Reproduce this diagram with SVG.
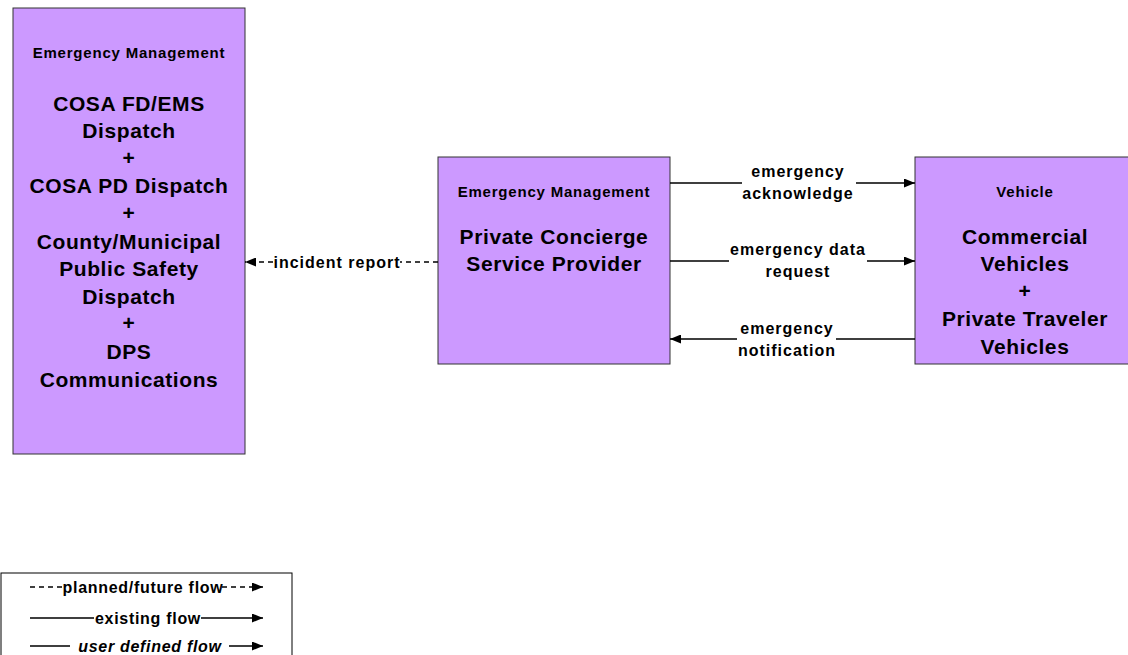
<svg xmlns="http://www.w3.org/2000/svg" width="1128" height="655" viewBox="0 0 1128 655">
<style>
.box{fill:#CC99FF;stroke:#333;stroke-width:1}
text{font-family:"Liberation Sans",Arial,sans-serif;font-weight:bold;fill:#000;text-anchor:middle}
.hd{font-size:15px;letter-spacing:0.8px}
.nm{font-size:21px;letter-spacing:0.6px}
.lb{font-size:16px;letter-spacing:1px}
.lg{font-size:16px;letter-spacing:0.7px}
.ln{stroke:#000;stroke-width:1.3;fill:none}
.dash{stroke-dasharray:5,4}
</style>
<defs>
<marker id="ah" markerWidth="11" markerHeight="9" refX="11" refY="4.5" orient="auto" markerUnits="userSpaceOnUse">
<path d="M0,0 L11,4.5 L0,9 z" fill="#000"/>
</marker>
</defs>
<rect width="1128" height="655" fill="#fff"/>
<g id="node-ems">
<rect class="box" x="13" y="8" width="232" height="446"/>
<text class="hd" x="129" y="58">Emergency Management</text>
<text class="nm" x="129" y="111">COSA FD/EMS</text>
<text class="nm" x="129" y="138">Dispatch</text>
<text class="nm" x="129" y="165">+</text>
<text class="nm" x="129" y="193">COSA PD Dispatch</text>
<text class="nm" x="129" y="220">+</text>
<text class="nm" x="129" y="249">County/Municipal</text>
<text class="nm" x="129" y="276">Public Safety</text>
<text class="nm" x="129" y="304">Dispatch</text>
<text class="nm" x="129" y="330">+</text>
<text class="nm" x="129" y="359">DPS</text>
<text class="nm" x="129" y="387">Communications</text>
</g>
<g id="node-pcsp">
<rect class="box" x="438" y="157" width="232" height="207"/>
<text class="hd" x="554" y="197">Emergency Management</text>
<text class="nm" x="554" y="244">Private Concierge</text>
<text class="nm" x="554" y="271">Service Provider</text>
</g>
<g id="node-vehicle">
<rect class="box" x="915" y="157" width="220" height="207"/>
<text class="hd" x="1025" y="197">Vehicle</text>
<text class="nm" x="1025" y="244">Commercial</text>
<text class="nm" x="1025" y="271">Vehicles</text>
<text class="nm" x="1025" y="298">+</text>
<text class="nm" x="1025" y="326">Private Traveler</text>
<text class="nm" x="1025" y="354">Vehicles</text>
</g>
<g id="connectors">
<path class="ln" d="M670,183 H742 M856,183 H915" marker-end="url(#ah)"/>
<text class="lb" x="798" y="177">emergency</text>
<text class="lb" x="798" y="199">acknowledge</text>
<path class="ln" d="M670,261 H729 M867,261 H915" marker-end="url(#ah)"/>
<text class="lb" x="798" y="255">emergency data</text>
<text class="lb" x="798" y="277">request</text>
<path class="ln" d="M915,339 H836 M737,339 H670" marker-end="url(#ah)"/>
<text class="lb" x="787" y="334">emergency</text>
<text class="lb" x="787" y="356">notification</text>
<path class="ln dash" d="M438,262 H400" />
<path class="ln dash" d="M273,262 H245" marker-end="url(#ah)"/>
<text class="lb" x="337" y="268">incident report</text>
</g>
<g id="legend">
<rect x="1" y="573" width="291" height="90" fill="#fff" stroke="#000" stroke-width="1"/>
<path class="ln dash" d="M30,587 H64 M222,587 H263" marker-end="url(#ah)"/>
<text class="lg" x="143" y="593">planned/future flow</text>
<path class="ln" d="M30,618 H94 M201,618 H263" marker-end="url(#ah)"/>
<text class="lg" x="148" y="624">existing flow</text>
<path class="ln" d="M30,646 H70 M229,646 H263" marker-end="url(#ah)"/>
<text class="lg" x="150" y="652" font-style="italic">user defined flow</text>
</g>
</svg>
